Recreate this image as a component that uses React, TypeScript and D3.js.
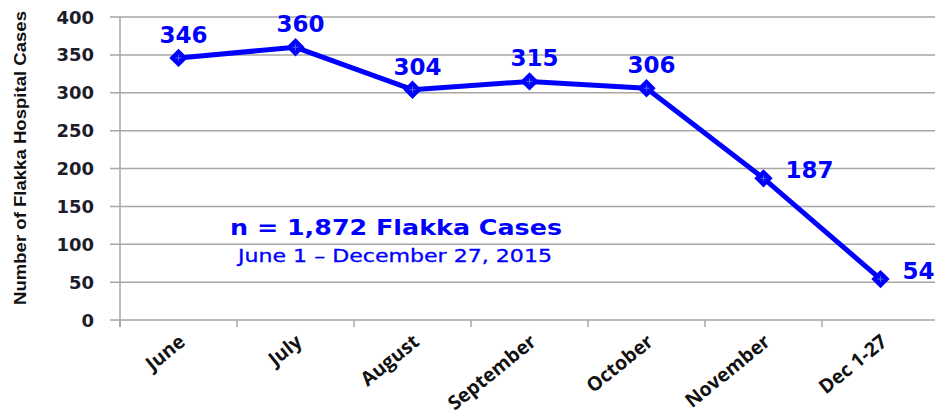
import React, { useEffect, useRef } from 'react';
import * as d3 from 'd3';

// Monthly Flakka hospital cases, June - Dec 27, 2015
const months = ['June', 'July', 'August', 'September', 'October', 'November', 'Dec 1-27'];
const cases = [346, 360, 304, 315, 306, 187, 54];
const yTicks = [0, 50, 100, 150, 200, 250, 300, 350, 400];
// where the value label sits relative to the point ('top' or 'right')
const labelSide = ['top', 'top', 'top', 'top', 'top', 'right', 'right'];

const BLUE = '#0000ff';

const App = () => {
  const svgRef = useRef<SVGSVGElement>(null);

  useEffect(() => {
    const svg = d3.select(svgRef.current);
    svg.selectAll('*').remove();

    const width = 935;
    const height = 420;
    const left = 120;
    const top = 17;
    const bottom = 320;

    const x = d3.scaleBand().domain(months).range([left, left + 117 * months.length]);
    const y = d3.scaleLinear().domain([0, 400]).range([bottom, top]);

    svg.attr('width', width).attr('height', height);

    // horizontal gridlines (they double as the y tick marks)
    svg.append('g')
      .selectAll('line')
      .data(yTicks)
      .enter()
      .append('line')
      .attr('x1', left - 10)
      .attr('x2', width)
      .attr('y1', (d) => y(d))
      .attr('y2', (d) => y(d))
      .attr('stroke', '#a6a6a6')
      .attr('stroke-width', 1.5);

    // y axis line
    svg.append('line')
      .attr('x1', left).attr('x2', left)
      .attr('y1', top).attr('y2', bottom + 7)
      .attr('stroke', '#a6a6a6').attr('stroke-width', 1.5);

    // x tick marks at band edges
    svg.append('g')
      .selectAll('line')
      .data(months)
      .enter()
      .append('line')
      .attr('x1', (d) => x(d)!)
      .attr('x2', (d) => x(d)!)
      .attr('y1', bottom)
      .attr('y2', bottom + 7)
      .attr('stroke', '#a6a6a6')
      .attr('stroke-width', 1.5);

    // y tick labels
    svg.append('g')
      .selectAll('text')
      .data(yTicks)
      .enter()
      .append('text')
      .attr('x', 94)
      .attr('y', (d) => y(d) + 6.5)
      .attr('text-anchor', 'end')
      .style('font-family', 'DejaVu Sans, Verdana, sans-serif')
      .style('font-weight', 'bold')
      .style('font-size', '18px')
      .style('fill', '#1c1c2a')
      .text((d) => d);

    // y axis title
    svg.append('text')
      .attr('transform', `translate(26, 158) rotate(-90)`)
      .attr('text-anchor', 'middle')
      .attr('textLength', 294)
      .attr('lengthAdjust', 'spacingAndGlyphs')
      .style('font-family', 'Liberation Sans, Arial, sans-serif')
      .style('font-weight', 'bold')
      .style('font-size', '17px')
      .style('fill', '#111')
      .text('Number of Flakka Hospital Cases');

    // x category labels, rotated
    svg.append('g')
      .selectAll('text')
      .data(months)
      .enter()
      .append('text')
      .attr('transform', (d) => `translate(${x(d)! + x.bandwidth() / 2 + 8}, ${bottom + 24}) rotate(-39)`)
      .attr('text-anchor', 'end')
      .style('font-family', 'Open Sans, Noto Sans, sans-serif')
      .style('font-weight', 'bold')
      .style('font-size', '19.5px')
      .style('fill', '#111')
      .text((d) => d);

    const cx = (i: number) => x(months[i])! + x.bandwidth() / 2;

    // the line itself
    const line = d3.line<number>()
      .x((d, i) => cx(i))
      .y((d) => y(d));

    svg.append('path')
      .datum(cases)
      .attr('d', line)
      .attr('fill', 'none')
      .attr('stroke', BLUE)
      .attr('stroke-width', 5)
      .attr('stroke-linejoin', 'round');

    // diamond markers
    const diamond = d3.symbol().type(d3.symbolSquare).size(110);
    const marks = svg.append('g')
      .selectAll('g')
      .data(cases)
      .enter()
      .append('g')
      .attr('transform', (d, i) => `translate(${cx(i)}, ${y(d)})`);
    marks.append('path')
      .attr('d', diamond)
      .attr('transform', 'rotate(45)')
      .attr('fill', BLUE)
      .attr('stroke', BLUE)
      .attr('stroke-width', 2.5);
    marks.append('path')
      .attr('d', 'M-3,0H3M0,-3V3')
      .attr('stroke', '#5a7fd8')
      .attr('stroke-width', 0.8);

    // value labels
    svg.append('g')
      .selectAll('text')
      .data(cases)
      .enter()
      .append('text')
      .attr('x', (d, i) => (labelSide[i] === 'right' ? cx(i) + 22 : cx(i) + 5))
      .attr('y', (d, i) => (labelSide[i] === 'right' ? y(d) : y(d) - 15))
      .attr('text-anchor', (d, i) => (labelSide[i] === 'right' ? 'start' : 'middle'))
      .style('font-family', 'DejaVu Sans, Verdana, sans-serif')
      .style('font-weight', 'bold')
      .style('font-size', '23px')
      .style('fill', BLUE)
      .text((d) => d);

    // annotation
    svg.append('text')
      .attr('x', 396)
      .attr('y', 235)
      .attr('text-anchor', 'middle')
      .attr('textLength', 332)
      .attr('lengthAdjust', 'spacingAndGlyphs')
      .style('font-family', 'DejaVu Sans, Verdana, sans-serif')
      .style('font-weight', 'bold')
      .style('font-size', '22px')
      .style('fill', BLUE)
      .text('n = 1,872 Flakka Cases');

    svg.append('text')
      .attr('x', 395)
      .attr('y', 262)
      .attr('text-anchor', 'middle')
      .attr('textLength', 314)
      .attr('lengthAdjust', 'spacingAndGlyphs')
      .style('font-family', 'DejaVu Sans, Verdana, sans-serif')
      .style('font-size', '17px')
      .style('stroke', BLUE)
      .style('stroke-width', 0.3)
      .style('fill', BLUE)
      .text('June 1 \u2013 December 27, 2015');
  }, []);

  return (
    <div style={{ position: 'absolute', left: 0, top: 0, background: '#fff' }}>
      <svg ref={svgRef} style={{ display: 'block' }}></svg>
    </div>
  );
};

export default App;
